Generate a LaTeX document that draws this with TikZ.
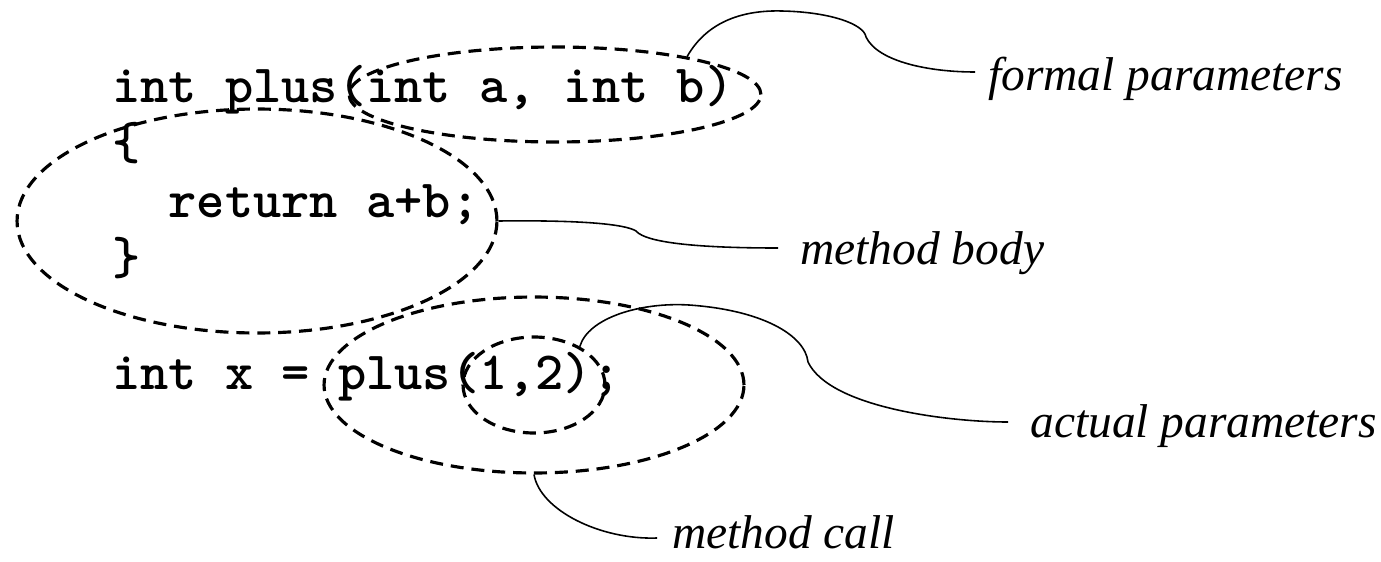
\documentclass[tikz,border=0pt]{standalone}
\usepackage{fontspec}
\newfontfamily\labelfont{Liberation Serif}
\usetikzlibrary{shapes.geometric}

\tikzset{
  code/.style={anchor=base west, inner sep=0pt,
    font=\ttfamily\bfseries\fontsize{30.6}{36}\selectfont},
  lbl/.style={anchor=base west, inner sep=0pt,
    font=\labelfont\itshape\fontsize{27}{32}\selectfont},
  region/.style={ellipse, draw, inner sep=0pt, line width=1.8pt,
    dash pattern=on 7.4pt off 4.5pt},
  leader/.style={line width=0.9pt},
}

\begin{document}
\frenchspacing
\begin{tikzpicture}[x=0.02cm, y=-0.02cm]
  \useasboundingbox (0,0) rectangle (1381,561);

  % source lines
  \node[code] (l1) at (112,102)   {int plus(int a, int b)};
  \node[code] (l2) at (112,159.5) {\{};
  \node[code] (l3) at (168.4,217) {return a+b;};
  \node[code] (l4) at (112,274.5) {\}};
  \node[code] (l6) at (112,389.5) {int x = plus(1,2);};

  % dashed regions
  \node[region, minimum width=8.24cm, minimum height=1.9cm]  (fp) at (555,94.5) {};
  \node[region, minimum width=9.6cm,  minimum height=4.48cm] (mb) at (257,221) {};
  \node[region, minimum width=8.4cm,  minimum height=3.52cm] (mc) at (534,385) {};
  \node[region, minimum width=2.84cm, minimum height=1.92cm] (ap) at (534,385) {};

  % labels
  \node[lbl] (fpl) at (988,90)  {formal parameters};
  \node[lbl] (mbl) at (800,264) {method body};
  \node[lbl] (apl) at (1030,437) {actual parameters};
  \node[lbl] (mcl) at (672,548) {method call};

  % leader ends
  \coordinate (fpe) at ([xshift=-0.26cm, yshift=0.36cm]fpl.base west);
  \coordinate (mbe) at ([xshift=-0.44cm, yshift=0.32cm]mbl.base west);
  \coordinate (ape) at ([xshift=-0.44cm, yshift=0.3cm]apl.base west);
  \coordinate (mce) at ([xshift=-0.3cm, yshift=0.2cm]mcl.base west);

  % leaders
  \draw[leader] (fp.16) .. controls (708,20) and (745,10) .. (782,11)
                        .. controls (830,12) and (864,24) .. (866,37)
                        .. controls (878,62) and (930,72) .. (fpe);
  \draw[leader] (mb.east) .. controls (580,220) and (625,224) .. (636,231)
                          .. controls (646,243) and (700,248) .. (mbe);
  \draw[leader] (ap.40) .. controls (588,318) and (640,302) .. (689,305)
                        .. controls (762,310) and (805,335) .. (808,362)
                        .. controls (830,408) and (950,422) .. (ape);
  \draw[leader] (mc.south) .. controls (540,510) and (600,540) .. (mce);
\end{tikzpicture}
\end{document}
